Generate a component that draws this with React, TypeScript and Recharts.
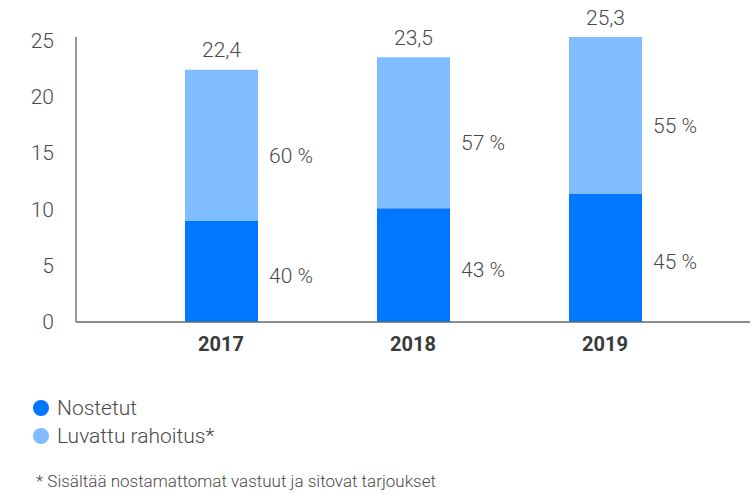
import { BarChart, Bar, XAxis, YAxis, LabelList } from 'recharts';

const years = ['2017', '2018', '2019'];
const nostetut = [8.96, 10.1, 11.4];
const luvattu = [13.44, 13.4, 13.9];
const yTicks = [0, 5, 10, 15, 20, 25];

const DARK = '#0077ff';
const LIGHT = '#80bdff';
const TEXT = '#4a4a4a';
const FONT = 'Roboto, "Noto Sans", sans-serif';

const data = years.map((year, i) => ({
  year,
  nostetut: nostetut[i],
  luvattu: luvattu[i],
  total: nostetut[i] + luvattu[i],
}));

const fmt = (v: number) => v.toFixed(1).replace('.', ',');

const shareLabel = (key: 'nostetut' | 'luvattu', shift: number) => (props: any) => {
  const { x, y, width, height, index } = props;
  const row = data[index];
  const pct = Math.round((row[key] / row.total) * 100);
  return (
    <text
      x={x + width + 11}
      y={y + height / 2 + shift}
      textAnchor="start"
      dominantBaseline="middle"
      fill={TEXT}
      fontSize={21}
      fontWeight={300}
      fontFamily={FONT}
    >
      {pct} %
    </text>
  );
};

const totalLabel = (props: any) => {
  const { x, y, width, index } = props;
  return (
    <text
      x={x + width / 2}
      y={y - 18}
      textAnchor="middle"
      dominantBaseline="middle"
      fill={TEXT}
      fontSize={21}
      fontWeight={300}
      fontFamily={FONT}
    >
      {fmt(data[index].total)}
    </text>
  );
};

function LegendItem({ color, label }: { color: string; label: string }) {
  return (
    <div style={{ display: 'flex', alignItems: 'center', height: 28 }}>
      <span
        style={{
          width: 16,
          height: 16,
          borderRadius: '50%',
          background: color,
          display: 'inline-block',
          marginRight: 8,
        }}
      />
      <span>{label}</span>
    </div>
  );
}

export default function App() {
  return (
    <div
      style={{
        position: 'absolute',
        left: 0,
        top: 0,
        width: 755,
        height: 494,
        background: '#fff',
        fontFamily: FONT,
      }}
    >
      <BarChart
        width={755}
        height={370}
        data={data}
        margin={{ top: 37, right: 5, left: 16, bottom: 18 }}
        barSize={73}
      >
        <XAxis
          dataKey="year"
          height={30}
          padding={{ left: 49, right: 49 }}
          axisLine={{ stroke: '#666', strokeWidth: 1.5 }}
          tickLine={false}
          tickMargin={9}
          tick={{ fill: '#3a3a3a', fontSize: 20, fontWeight: 700, fontFamily: FONT }}
        />
        <YAxis
          width={60}
          domain={[0, 25.3]}
          ticks={yTicks}
          axisLine={{ stroke: '#777', strokeWidth: 1.5 }}
          tickLine={false}
          tickMargin={16}
          tick={{ fill: TEXT, fontSize: 21, fontWeight: 300, fontFamily: FONT }}
        />
        <Bar dataKey="nostetut" stackId="a" fill={DARK} isAnimationActive={false}>
          <LabelList content={shareLabel('nostetut', 6)} />
        </Bar>
        <Bar dataKey="luvattu" stackId="a" fill={LIGHT} isAnimationActive={false}>
          <LabelList content={shareLabel('luvattu', 12)} />
          <LabelList content={totalLabel} />
        </Bar>
      </BarChart>
      <div
        style={{
          position: 'absolute',
          left: 33,
          top: 394,
          fontSize: 21,
          fontWeight: 300,
          color: TEXT,
        }}
      >
        <LegendItem color={DARK} label="Nostetut" />
        <LegendItem color={LIGHT} label="Luvattu rahoitus*" />
      </div>
      <div
        style={{
          position: 'absolute',
          left: 36,
          top: 471,
          fontSize: 17,
          fontWeight: 300,
          color: TEXT,
        }}
      >
        * Sisältää nostamattomat vastuut ja sitovat tarjoukset
      </div>
    </div>
  );
}
